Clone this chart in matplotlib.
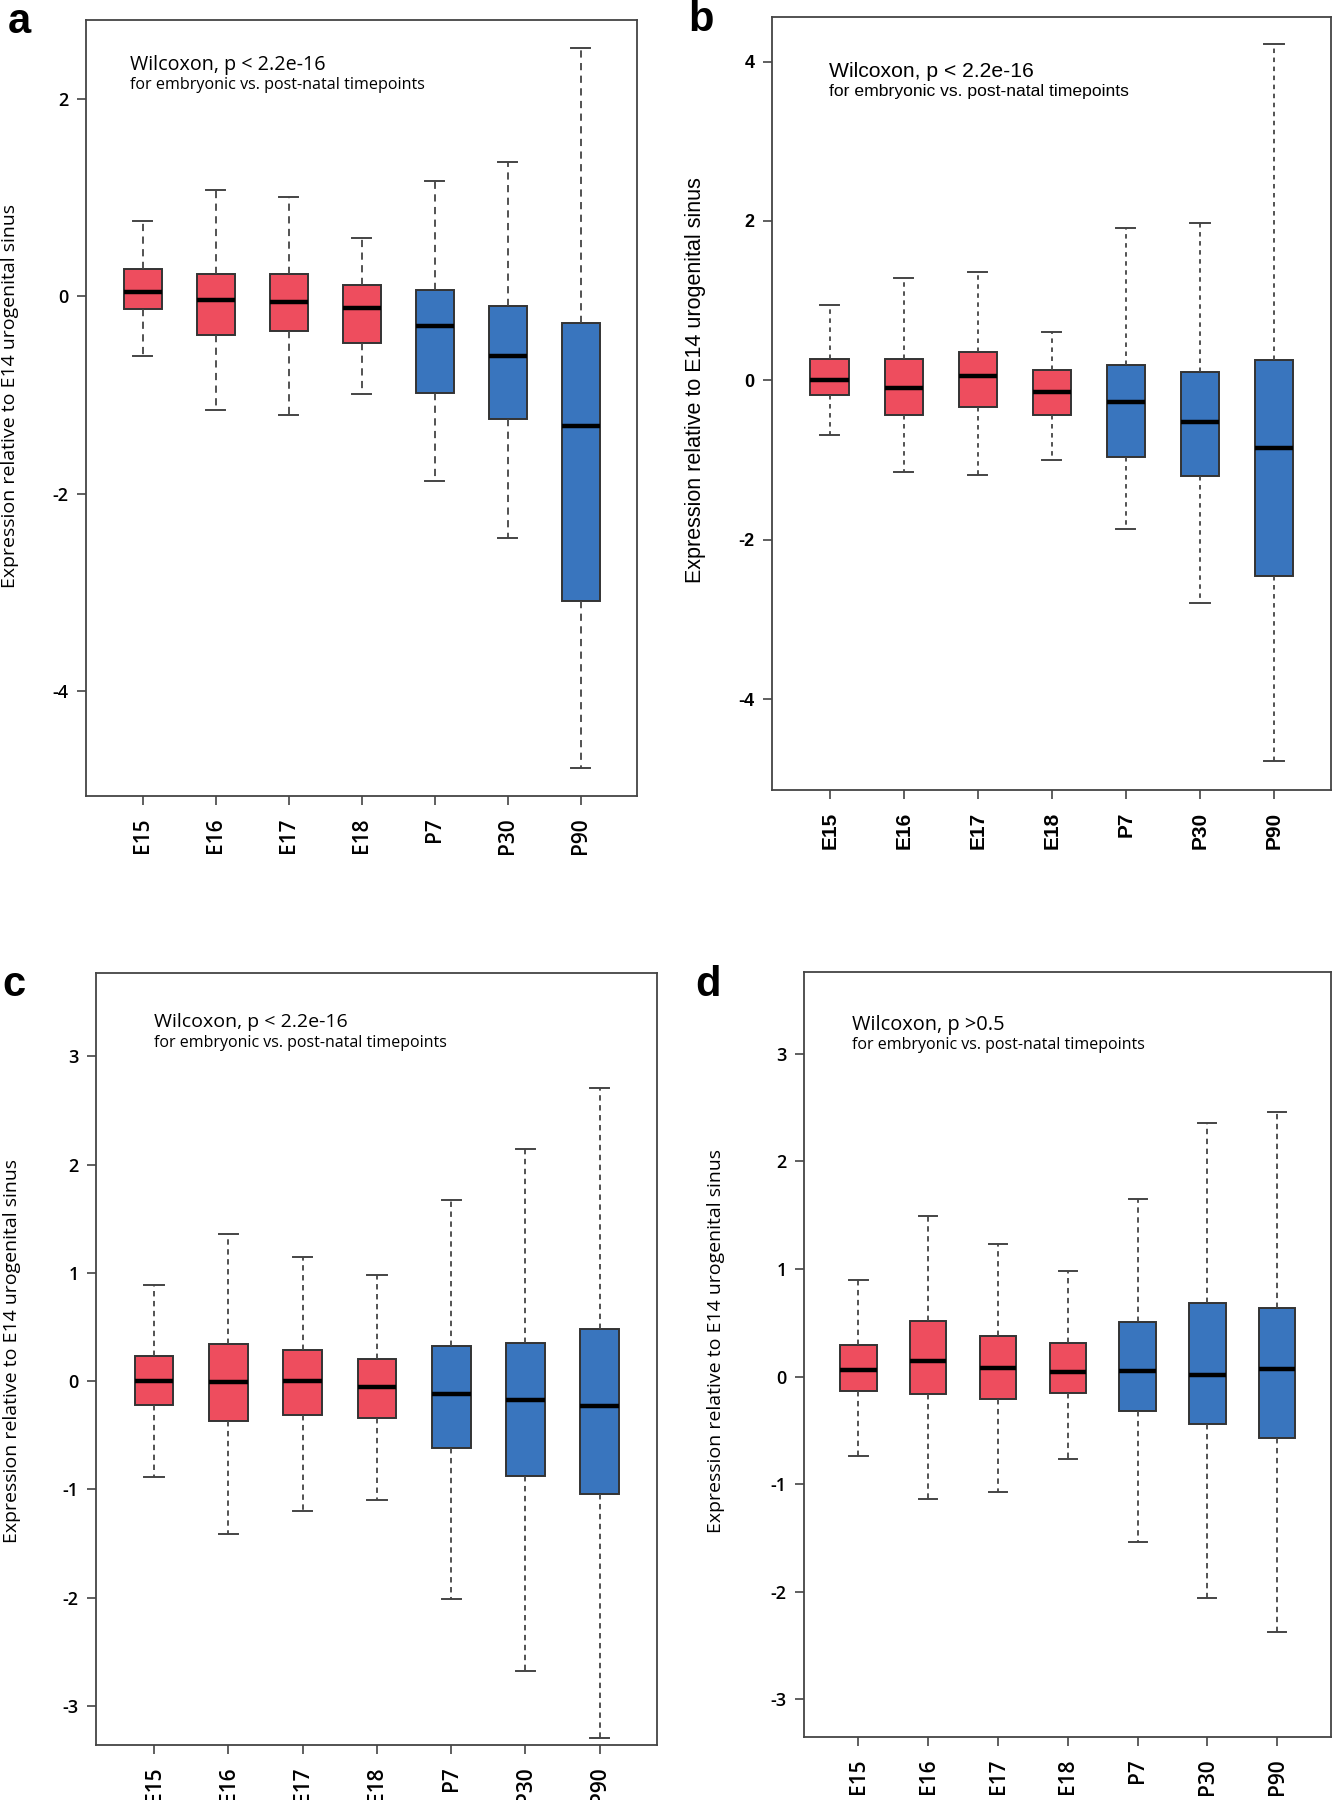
import matplotlib
matplotlib.use("Agg")
import matplotlib.pyplot as plt

# categories shared by all four panels
timepoints = ["E15", "E16", "E17", "E18", "P7", "P30", "P90"]
is_embryonic = [True, True, True, True, False, False, False]

# box statistics: lower whisker, Q1, median, Q3, upper whisker
a_whislo = [-0.60, -1.15, -1.20, -0.99, -1.87, -2.45, -4.78]
a_q1 = [-0.13, -0.39, -0.35, -0.47, -0.98, -1.24, -3.09]
a_med = [0.04, -0.04, -0.06, -0.12, -0.30, -0.60, -1.31]
a_q3 = [0.28, 0.23, 0.23, 0.12, 0.06, -0.10, -0.27]
a_whishi = [0.76, 1.08, 1.01, 0.59, 1.17, 1.36, 2.52]

b_whislo = [-0.68, -1.15, -1.19, -1.00, -1.87, -2.79, -4.78]
b_q1 = [-0.19, -0.43, -0.34, -0.43, -0.96, -1.20, -2.45]
b_med = [0.00, -0.09, 0.05, -0.14, -0.27, -0.52, -0.85]
b_q3 = [0.27, 0.27, 0.36, 0.13, 0.19, 0.11, 0.26]
b_whishi = [0.94, 1.29, 1.36, 0.61, 1.91, 1.98, 4.22]

c_whislo = [-0.89, -1.41, -1.20, -1.10, -2.01, -2.68, -3.30]
c_q1 = [-0.22, -0.37, -0.31, -0.34, -0.62, -0.88, -1.04]
c_med = [0.00, -0.01, 0.00, -0.05, -0.12, -0.17, -0.23]
c_q3 = [0.23, 0.34, 0.29, 0.20, 0.32, 0.35, 0.48]
c_whishi = [0.89, 1.36, 1.15, 0.98, 1.67, 2.14, 2.71]

d_whislo = [-0.74, -1.14, -1.07, -0.77, -1.54, -2.06, -2.37]
d_q1 = [-0.13, -0.16, -0.21, -0.15, -0.32, -0.44, -0.57]
d_med = [0.06, 0.14, 0.08, 0.04, 0.05, 0.01, 0.07]
d_q3 = [0.29, 0.52, 0.38, 0.31, 0.51, 0.68, 0.64]
d_whishi = [0.90, 1.49, 1.23, 0.98, 1.65, 2.36, 2.46]

y_ticks_a = [-4, -2, 0, 2]
y_ticks_b = [-4, -2, 0, 2, 4]
y_ticks_cd = [-3, -2, -1, 0, 1, 2, 3]

RED = "#EE4D5E"
BLUE = "#3975BE"
EDGE = "#333333"

myriad = ["Open Sans", "DejaVu Sans"]
helv = ["Liberation Sans", "DejaVu Sans"]


def make_stats(whislo, q1, med, q3, whishi):
    stats = []
    for i, name in enumerate(timepoints):
        stats.append(dict(label=name, whislo=whislo[i], q1=q1[i], med=med[i],
                          q3=q3[i], whishi=whishi[i], fliers=[]))
    return stats


def draw_panel(ax, stats, yticks, ylim, title, font, sizes, dash,
               text_xy, label_xy, letter, letter_xy):
    title_size, sub_size, label_size = sizes
    res = ax.bxp(stats, positions=range(1, 8), widths=0.52, patch_artist=True,
                 showfliers=False,
                 boxprops=dict(edgecolor=EDGE, linewidth=1.4),
                 medianprops=dict(color="black", linewidth=3.2),
                 whiskerprops=dict(color="#444444", linewidth=1.3, linestyle=dash),
                 capprops=dict(color="#444444", linewidth=1.4))
    for patch, emb in zip(res["boxes"], is_embryonic):
        patch.set_facecolor(RED if emb else BLUE)

    ax.set_xlim(0.22, 7.77)
    ax.set_ylim(*ylim)
    ax.set_yticks(yticks)
    ax.set_yticklabels([str(t) for t in yticks], family=font, fontsize=13,
                       fontweight="semibold")
    ax.set_xticks(range(1, 8))
    ax.set_xticklabels(timepoints, rotation=90, family=font, fontsize=15,
                       fontweight="semibold")
    ax.tick_params(axis="y", length=6.5, width=1.2, color="#444444", pad=6)
    ax.tick_params(axis="x", length=6.5, width=1.2, color="#444444", pad=9)
    for sp in ax.spines.values():
        sp.set_color("#444444")
        sp.set_linewidth(1.3)

    ax.set_ylabel("Expression relative to E14 urogenital sinus", family=font,
                  fontsize=label_size)
    ax.yaxis.set_label_coords(*label_xy)

    ax.text(text_xy[0], text_xy[1], title, transform=ax.transAxes, family=font,
            fontsize=title_size, va="top", ha="left", fontweight="medium")
    ax.text(text_xy[0], text_xy[1] - 0.029, "for embryonic vs. post-natal timepoints",
            transform=ax.transAxes, family=font, fontsize=sub_size, va="top", ha="left",
            fontweight="medium")

    fig.text(letter_xy[0], letter_xy[1], letter, family=helv, fontsize=30,
             fontweight="bold", va="center", ha="left")


fig = plt.figure(figsize=(13.34, 18), dpi=100)

ax_a = fig.add_axes([0.0645, 0.5578, 0.413, 0.4311])
ax_b = fig.add_axes([0.5787, 0.5611, 0.419, 0.4295])
ax_c = fig.add_axes([0.0720, 0.0306, 0.4205, 0.4289])
ax_d = fig.add_axes([0.6027, 0.0350, 0.395, 0.4250])

draw_panel(ax_a, make_stats(a_whislo, a_q1, a_med, a_q3, a_whishi), y_ticks_a,
           (-5.06, 2.80), "Wilcoxon, p < 2.2e-16", myriad, (14.2, 11.6, 14), (0, (4, 3)),
           (0.08, 0.955), (-0.122, 0.516), "a", (0.006, 0.988))
draw_panel(ax_b, make_stats(b_whislo, b_q1, b_med, b_q3, b_whishi), y_ticks_b,
           (-5.14, 4.56), "Wilcoxon, p < 2.2e-16", helv, (15.2, 12.6, 15.5), (0, (2.5, 2.5)),
           (0.102, 0.942), (-0.118, 0.53), "b", (0.516, 0.989))
draw_panel(ax_c, make_stats(c_whislo, c_q1, c_med, c_q3, c_whishi), y_ticks_cd,
           (-3.36, 3.77), "Wilcoxon, p < 2.2e-16", myriad, (14.0, 11.5, 14), (0, (3, 2.5)),
           (0.103, 0.948), (-0.134, 0.51), "c", (0.002, 0.453))
draw_panel(ax_d, make_stats(d_whislo, d_q1, d_med, d_q3, d_whishi), y_ticks_cd,
           (-3.35, 3.76), "Wilcoxon, p >0.5", myriad, (14.4, 11.5, 14), (0, (3, 2.5)),
           (0.091, 0.944), (-0.15, 0.518), "d", (0.521, 0.453))

fig.savefig("out.png", dpi=100)
